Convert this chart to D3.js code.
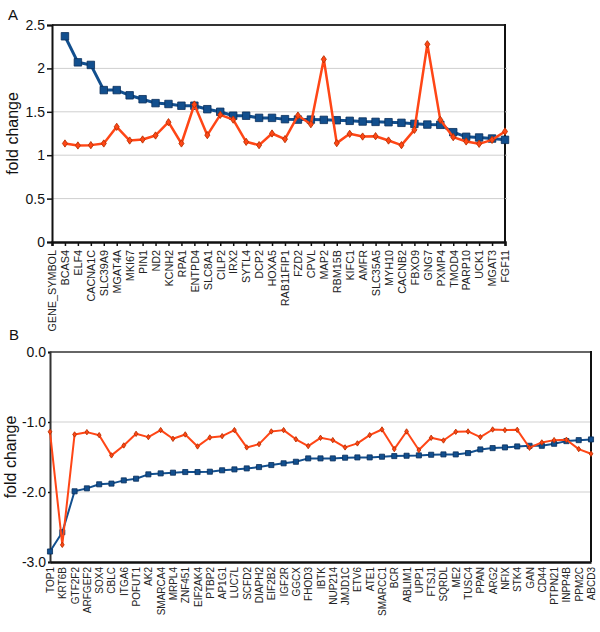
<!DOCTYPE html>
<html><head><meta charset="utf-8">
<script src="https://cdn.jsdelivr.net/npm/d3@7"></script>
<style>body{margin:0;background:#fff}svg{display:block;font-family:"Liberation Sans",Arial,sans-serif}</style>
</head><body><svg id="c" width="600" height="632"></svg>
<script>
const catsA = ["GENE_SYMBOL","BCAS4","ELF4","CACNA1C","SLC39A9","MGAT4A","MKI67","PIN1","ND2","KCNH2","RPA1","ENTPD4","SLC8A1","CILP2","IRX2","SYTL4","DCP2","HOXA5","RAB11FIP1","FZD2","CPVL","MAP2","RBM15B","KIFC1","AMFR","SLC35A5","MYH10","CACNB2","FBXO9","GNG7","PXMP4","TMOD4","PARP10","UCK1","MGAT3","FGF11"];
const blueA = [null,2.37,2.07,2.04,1.75,1.75,1.69,1.645,1.60,1.59,1.57,1.57,1.53,1.50,1.455,1.455,1.43,1.43,1.415,1.41,1.41,1.407,1.403,1.396,1.388,1.384,1.38,1.373,1.361,1.353,1.35,1.265,1.212,1.204,1.192,1.177];
const orangeA = [null,1.135,1.112,1.116,1.135,1.327,1.169,1.181,1.227,1.38,1.135,1.584,1.231,1.465,1.41,1.154,1.116,1.25,1.185,1.457,1.357,2.105,1.139,1.246,1.215,1.219,1.169,1.116,1.292,2.278,1.407,1.208,1.158,1.131,1.177,1.273];
const ticksA = [0,0.5,1,1.5,2,2.5];
const tickLabelsA = ["0","0.5","1","1.5","2","2.5"];

const catsB = ["TOP1","KRT6B","GTF2F2","ARFGEF2","SOX4","CBLC","ITGA6","POFUT1","AK2","SMARCA4","MRPL4","ZNF451","EIF2AK4","PTBP2","AP1G1","LUC7L","SCFD2","DIAPH2","EIF2B2","IGF2R","GGCX","FHOD3","IBTK","NUP214","JMJD1C","ETV6","ATE1","SMARCC1","BCR","ABLIM1","UPP1","FTSJ1","SQRDL","ME2","TUSC4","PPAN","ARG2","NFIX","STK4","GAN","CD44","PTPN21","INPP4B","PPM2C","ABCD3"];
const blueB = [-2.85,-2.575,-1.99,-1.948,-1.89,-1.88,-1.834,-1.81,-1.748,-1.734,-1.724,-1.715,-1.715,-1.71,-1.69,-1.677,-1.663,-1.644,-1.615,-1.59,-1.568,-1.52,-1.52,-1.52,-1.51,-1.506,-1.506,-1.496,-1.487,-1.482,-1.477,-1.468,-1.463,-1.463,-1.444,-1.392,-1.373,-1.363,-1.349,-1.34,-1.34,-1.311,-1.273,-1.259,-1.249];
const orangeB = [-1.14,-2.755,-1.178,-1.145,-1.188,-1.477,-1.335,-1.169,-1.216,-1.116,-1.24,-1.178,-1.349,-1.221,-1.202,-1.116,-1.363,-1.316,-1.135,-1.116,-1.247,-1.344,-1.226,-1.259,-1.363,-1.306,-1.188,-1.107,-1.387,-1.135,-1.401,-1.226,-1.264,-1.14,-1.135,-1.216,-1.107,-1.116,-1.112,-1.368,-1.292,-1.259,-1.254,-1.387,-1.454];
const ticksB = [0,-1,-2,-3];
const tickLabelsB = ["0.0","-1.0","-2.0","-3.0"];

const svg = d3.select("#c");
const BLUE = "#124f8e", BLUE_STROKE = "#0a2f5a", ORANGE = "#ff4616", ORANGE_STROKE = "#b83000";

function panel(o) {
  const g = svg.append("g");
  const x = d3.scalePoint().domain(o.cats).range([o.left, o.right]).padding(0);
  const y = d3.scaleLinear().domain(o.ydom).range([o.bottom, o.top]);
  g.append("g").selectAll("line").data(o.ticks.filter(t => o.grid(t))).join("line")
    .attr("x1", o.left).attr("x2", o.right).attr("y1", d => y(d)).attr("y2", d => y(d))
    .attr("stroke", "#cfcfcf").attr("stroke-width", 1);
  g.append("line").attr("x1", o.left).attr("x2", o.right).attr("y1", o.top).attr("y2", o.top)
    .attr("stroke", o.topColor).attr("stroke-width", 2);
  g.append("line").attr("x1", o.right).attr("x2", o.right).attr("y1", o.top - 1).attr("y2", o.bottom)
    .attr("stroke", "#111").attr("stroke-width", 2);
  const ya = d3.axisLeft(y).tickValues(o.ticks).tickFormat((d, i) => o.tickLabels[i]).tickSize(o.ytick).tickPadding(2);
  const yg = g.append("g").attr("transform", `translate(${o.left},0)`).call(ya);
  yg.select(".domain").attr("stroke", o.leftColor).attr("stroke-width", 2);
  yg.selectAll(".tick line").attr("stroke", "#111").attr("stroke-width", 1.5);
  yg.selectAll("text").attr("font-size", o.yfs).attr("fill", "#111").attr("font-family", "Liberation Sans, Arial, sans-serif");
  if (o.rightTicks) {
    g.append("g").selectAll("line").data(o.ticks.filter(t => o.grid(t))).join("line")
      .attr("x1", o.right).attr("x2", o.right + 2).attr("y1", d => y(d)).attr("y2", d => y(d))
      .attr("stroke", "#bbb").attr("stroke-width", 1);
  }
  const xa = d3.axisBottom(x).tickSize(o.xtick).tickPadding(3);
  const xg = g.append("g").attr("transform", `translate(0,${o.bottom})`).call(xa);
  xg.select(".domain").attr("stroke", "#111").attr("stroke-width", 2.5);
  xg.selectAll(".tick line").attr("stroke", "#111").attr("stroke-width", 1.5);
  xg.selectAll("text").attr("font-size", o.xfs).attr("fill", "#222")
    .attr("font-family", "Liberation Sans, Arial, sans-serif")
    .attr("transform", "rotate(-90)").attr("text-anchor", "end")
    .attr("x", -(o.xtick + o.xpad)).attr("y", 0).attr("dy", "0.35em");
  g.append("text").attr("transform", `translate(${o.titleX},${(o.top + o.bottom) / 2}) rotate(-90)`)
    .attr("text-anchor", "middle").attr("font-size", 16).attr("fill", "#111").text("fold change");
  g.append("text").attr("x", o.labX).attr("y", o.labY).attr("font-size", 15).attr("fill", "#111").text(o.label);
  function series(vals, color, stroke, lw, isSquare, ms) {
    const pts = o.cats.map((c, i) => ({c, v: vals[i]})).filter(d => d.v != null);
    g.append("path").datum(pts)
      .attr("d", d3.line().x(d => x(d.c)).y(d => y(d.v)))
      .attr("fill", "none").attr("stroke", color).attr("stroke-width", lw).attr("stroke-linejoin", "round");
    const sym = d3.symbol().type(d3.symbolSquare).size(ms);
    g.append("g").selectAll("path").data(pts).join("path")
      .attr("transform", d => `translate(${x(d.c)},${y(d.v)})` + (isSquare ? "" : " scale(0.8,1.15) rotate(45)"))
      .attr("d", sym())
      .attr("fill", color).attr("stroke", stroke).attr("stroke-width", 0.8);
  }
  series(o.blue, BLUE, BLUE_STROKE, o.lwB, true, o.msB);
  series(o.orange, ORANGE, ORANGE_STROKE, o.lwO, false, o.msO);
}

panel({cats: catsA, blue: blueA, orange: orangeA, ydom: [0, 2.5], ticks: ticksA, tickLabels: tickLabelsA,
  left: 52, right: 505, top: 25, bottom: 242, grid: t => t > 0 && t < 2.5, topColor: "#333", leftColor: "#111",
  ytick: 5, xtick: 4, xpad: 4, yfs: 14, xfs: 10.8, titleX: 18, labX: 8, labY: 20, label: "A",
  lwB: 3, lwO: 2.5, msB: 56, msO: 20, rightTicks: true});

panel({cats: catsB, blue: blueB, orange: orangeB, ydom: [-3, 0], ticks: ticksB, tickLabels: tickLabelsB,
  left: 50, right: 591, top: 352, bottom: 562, grid: t => t < 0 && t > -3, topColor: "#666", leftColor: "#333",
  ytick: 2, xtick: 0, xpad: 5, yfs: 14, xfs: 10, titleX: 16, labX: 9, labY: 340, label: "B",
  lwB: 2, lwO: 2, msB: 26, msO: 11, rightTicks: false});
</script></body></html>
